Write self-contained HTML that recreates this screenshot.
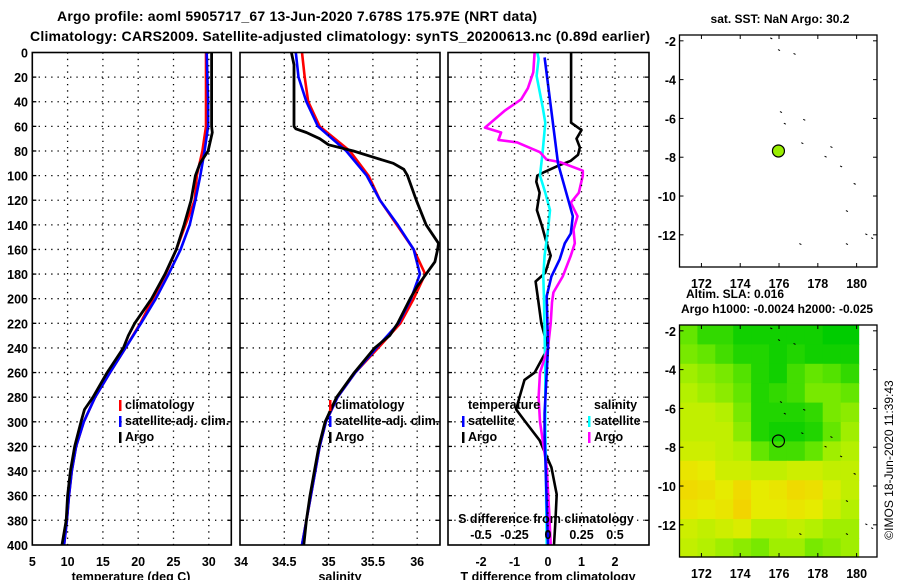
<!DOCTYPE html>
<html><head><meta charset="utf-8"><style>
html,body{margin:0;padding:0;background:#fff;}
svg{display:block;font-family:"Liberation Sans",Arial,sans-serif;font-weight:bold;}
</style></head><body>
<svg id="fig" width="900" height="580" viewBox="0 0 900 580" xmlns="http://www.w3.org/2000/svg">
<text x="297" y="21" font-size="14" text-anchor="middle" textLength="480">Argo profile: aoml 5905717_67 13-Jun-2020 7.678S 175.97E (NRT data)</text>
<text x="340" y="41" font-size="14" text-anchor="middle" textLength="620">Climatology: CARS2009. Satellite-adjusted climatology: synTS_20200613.nc (0.89d earlier)</text>
<g id="plots"></g>
</svg>
<script>
// ---- profile data ----
const depthTArgo = [0,20,40,60,65,70,80,90,100,120,140,160,180,200,220,230,240,260,280,290,300,320,340,360,380,400];
const tempArgo   = [30.4,30.4,30.4,30.4,30.5,30.3,29.9,28.75,28.1,27.5,26.5,25.4,23.8,21.9,19.5,18.6,17.9,15.6,13.6,12.4,11.9,11.0,10.4,10.0,9.8,9.2];
const depthClim  = [0,20,40,60,80,100,120,140,160,180,200,220,240,260,280,300,320,340,360,380,400];
const tempClim   = [29.6,29.6,29.6,29.6,29.1,28.3,28.0,26.7,25.4,23.9,22.1,20.3,18.2,16.0,13.9,12.3,11.2,10.6,10.2,9.9,9.5];
const tempSat    = [29.7,29.8,29.9,29.9,29.4,28.8,28.1,27.3,26.0,24.3,22.5,20.4,18.2,16.0,13.9,12.3,11.2,10.6,10.2,9.9,9.5];
const depthSArgo = [0,10,20,40,60,62,65,70,75,80,85,90,95,100,120,140,155,160,170,180,190,200,220,230,240,260,280,300,320,340,360,380,400];
const salArgo    = [34.58,34.61,34.61,34.61,34.61,34.63,34.75,34.9,35.0,35.28,35.5,35.73,35.85,35.89,35.99,36.1,36.24,36.23,36.2,36.1,36.0,35.92,35.78,35.69,35.52,35.29,35.09,34.96,34.89,34.84,34.79,34.75,34.72];
const salClim    = [34.70,34.73,34.77,34.9,35.24,35.45,35.58,35.77,35.96,36.09,35.96,35.81,35.56,35.3,35.1,34.97,34.9,34.85,34.8,34.75,34.7];
const salSat     = [34.63,34.66,34.75,34.88,35.2,35.43,35.58,35.78,35.96,36.03,35.93,35.79,35.54,35.3,35.1,34.97,34.9,34.85,34.8,34.75,34.7];
// differences (panel 3)
const depthDT    = [0,57,63,70,77,83,88,92,97,100,105,114,128,141,152,165,179,186,200,220,240,260,266,280,290,299,315,337,359,381,400];
const dTArgo     = [0.69,0.69,1.0,0.85,0.95,0.9,0.68,0.3,-0.1,-0.32,-0.35,-0.25,-0.33,-0.18,-0.07,0.08,-0.08,-0.37,-0.3,-0.2,0.0,-0.4,-0.7,-0.85,-0.95,-0.7,-0.25,0.1,0.26,0.22,0.18];
const depthDTS   = [4,90,133,147,155,168,182,198,240,293,310,400];
const dTSat      = [-0.1,0.3,0.74,0.68,0.5,0.35,0.1,-0.04,0.0,-0.1,-0.1,0.0];
const depthDS    = [0,16,29,38,47,61,65,71,73,81,87,89,96,100,114,122,133,144,155,165,182,195,203,220,240,260,280,300,337,375,400];
const dSArgo     = [-0.1,-0.11,-0.15,-0.2,-0.32,-0.47,-0.35,-0.37,-0.23,-0.06,-0.01,0.09,0.26,0.26,0.23,0.17,0.22,0.19,0.2,0.17,0.11,0.04,0.03,0.02,0.0,-0.06,-0.07,-0.06,-0.01,0.01,0.02];
const depthDSS   = [0,5,19,44,57,81,100,114,128,144,165,182,200,260,300,400];
const dSSat      = [-0.08,-0.07,-0.085,-0.04,-0.02,-0.04,-0.06,-0.02,0.015,0.0,-0.025,-0.035,-0.03,-0.02,-0.02,-0.01];
// axis ticks
const depthTicks = [0,20,40,60,80,100,120,140,160,180,200,220,240,260,280,300,320,340,360,380,400];
const tempTicks  = [5,10,15,20,25,30];
const salTicks   = ["34","34.5","35","35.5","36"];
const dTTicks    = [-2,-1,0,1,2];
const dSTicks    = ["-0.5","-0.25","0","0.25","0.5"];
// map data
const mapLonTicks = [172,174,176,178,180];
const mapLatTicks = [-2,-4,-6,-8,-10,-12];
const floatLon = 175.97, floatLat = -7.678;
const islandLon = [175.6,176.0,176.8,176.1,177.3,176.3,177.2,178.7,178.4,179.2,179.9,179.5,180.5,180.8,177.1,179.5];
const islandLat = [-1.9,-2.5,-2.7,-5.7,-6.1,-6.3,-7.3,-7.5,-8.0,-8.5,-9.4,-10.8,-12.0,-12.2,-12.5,-12.5];
const slaGrid = [
 [0.3,0.15,0.15,0.05,0.05,0.05,0.05,0.05,0.0,0.0],
 [0.35,0.3,0.2,0.1,0.1,0.05,0.1,0.05,0.05,0.05],
 [0.45,0.4,0.35,0.25,0.1,0.05,0.2,0.3,0.25,0.15],
 [0.5,0.45,0.4,0.3,0.1,0.15,0.2,0.35,0.35,0.3],
 [0.55,0.55,0.5,0.35,0.1,0.1,0.1,0.15,0.35,0.4],
 [0.55,0.55,0.55,0.4,0.1,0.05,0.05,0.1,0.3,0.45],
 [0.6,0.6,0.55,0.5,0.3,0.2,0.2,0.3,0.45,0.5],
 [0.75,0.7,0.6,0.6,0.55,0.55,0.6,0.6,0.55,0.55],
 [0.85,0.8,0.7,0.85,0.7,0.75,0.85,0.8,0.65,0.55],
 [0.75,0.7,0.75,0.9,0.7,0.7,0.75,0.7,0.6,0.5],
 [0.6,0.55,0.6,0.65,0.5,0.5,0.55,0.5,0.45,0.45],
 [0.55,0.5,0.45,0.4,0.35,0.45,0.45,0.35,0.4,0.45]
];

const NS = "http://www.w3.org/2000/svg";
const root = document.getElementById('plots');
function mk(tag, attrs, parent){ const e=document.createElementNS(NS,tag); for(const k in attrs) e.setAttribute(k,attrs[k]); (parent||root).appendChild(e); return e; }
function txt(x,y,s,size,anchor,parent){ const t=mk('text',{x:x,y:y,'font-size':size,'text-anchor':anchor||'middle'},parent); t.textContent=s; return t; }

const Y0=52.5, YS=1.231, YB=545;
const sy = d => Y0 + d*YS;
const panels = [
  {name:'temperature', x0:32.3, x1:231.3, sx:v=>32.3+(v-5)*7.06},
  {name:'salinity', x0:240, x1:440, sx:v=>240+(v-34)*88.6},
  {name:'difference', x0:448, x1:649, sx:v=>548+v*33.5}
];
const sxS = v => 548 + v*134;

function frame(p){
  const g = mk('g',{});
  
  
  return g;
}
function gridV(g,x){ mk('line',{x1:x,x2:x,y1:Y0,y2:YB,stroke:'#000','stroke-width':1.3,'stroke-dasharray':'1.3,5'},g); }
function gridH(g,p,y){ mk('line',{x1:p.x0,x2:p.x1,y1:y,y2:y,stroke:'#000','stroke-width':1.3,'stroke-dasharray':'1.3,5'},g);
  mk('line',{x1:p.x0,x2:p.x0+4,y1:y,y2:y,stroke:'#000','stroke-width':1.3},g);
  mk('line',{x1:p.x1-4,x2:p.x1,y1:y,y2:y,stroke:'#000','stroke-width':1.3},g); }
function line(g,sx,depths,vals,color,w,name){
  const pts = depths.map((d,i)=>sx(vals[i]).toFixed(1)+','+sy(d).toFixed(1)).join(' ');
  const l = mk('polyline',{points:pts,fill:'none',stroke:color,'stroke-width':w,'stroke-linejoin':'round'},g);
  
  
  return l;
}

panels.forEach((p,pi)=>{
  const g = frame(p);
  const clip = mk('clipPath',{id:'clip'+pi},g);
  mk('rect',{x:p.x0,y:Y0,width:p.x1-p.x0,height:YB-Y0},clip);
  depthTicks.slice(1,-1).forEach(d=>gridH(g,p,sy(d)));
  const lg = mk('g',{'clip-path':'url(#clip'+pi+')'},g);
  if(pi===0){
    tempTicks.forEach(t=>{ const x=p.sx(t); if(t>5) gridV(g,x); txt(x,566,String(t),12.5,'middle',g); });
    line(lg,p.sx,depthClim,tempClim,'#f00',2.6,'temperature-climatology-line');
    line(lg,p.sx,depthClim,tempSat,'#00f',2.6,'temperature-satellite-line');
    line(lg,p.sx,depthTArgo,tempArgo,'#000',2.8,'temperature-argo-line');
    txt(131,581,'temperature (deg C)',12.5,'middle',g);
    depthTicks.forEach(d=>txt(28,sy(d)+5,String(d),12.5,'end',g));
  } else if(pi===1){
    salTicks.forEach(t=>{ const v=parseFloat(t); const x=p.sx(v); if(v>34) gridV(g,x); txt(x+(v===34?1:0),566,t,12.5,'middle',g); });
    line(lg,p.sx,depthClim,salClim,'#f00',2.6,'salinity-climatology-line');
    line(lg,p.sx,depthClim,salSat,'#00f',2.6,'salinity-satellite-line');
    line(lg,p.sx,depthSArgo,salArgo,'#000',2.8,'salinity-argo-line');
    txt(340,581,'salinity',12.5,'middle',g);
  } else {
    dTTicks.forEach(t=>{ const x=p.sx(t); gridV(g,x); txt(x,566,String(t),12.5,'middle',g); });
    line(lg,p.sx,depthDT,dTArgo,'#000',2.6,'t-diff-argo-line');
    line(lg,sxS,depthDSS,dSSat,'#0ff',2.6,'s-diff-satellite-line');
    line(lg,sxS,depthDS,dSArgo,'#f0f',2.6,'s-diff-argo-line');
    line(lg,p.sx,depthDTS,dTSat,'#00f',2.6,'t-diff-satellite-line');
    const st=txt(546,523,'S difference from climatology',12.5,'middle',g);
    
    dSTicks.forEach(t=>txt(sxS(parseFloat(t)),539,t,12.5,'middle',g));
    txt(548,581,'T difference from climatology',12.5,'middle',g);
  }
  mk('rect',{x:p.x0,y:Y0,width:p.x1-p.x0,height:YB-Y0,fill:'none',stroke:'#000','stroke-width':1.6},g);
});

// legends
function legend(x,y,items,name){
  const g=mk('g',{});
  
  
  items.forEach((it,i)=>{
    if(it[1]) mk('rect',{x:x-6,y:y+i*16-9,width:2.5,height:11,fill:it[1]},g);
    txt(x,y+i*16,it[0],12.5,'start',g);
  });
}
legend(125,409,[['climatology','#f00'],['satellite-adj. clim.','#00f'],['Argo','#000']],'temperature-legend');
legend(335,409,[['climatology','#f00'],['satellite-adj. clim.','#00f'],['Argo','#000']],'salinity-legend');
legend(468,409,[['temperature',null],['satellite','#00f'],['Argo','#000']],'t-diff-legend');
legend(594,409,[['salinity',null],['satellite','#0ff'],['Argo','#f0f']],'s-diff-legend');

// ---- maps ----
const MX0=679.5, MX1=877, LON0=170.87, LAT0=-1.7, DEG=19.4;
const mx = lon => MX0 + (lon-LON0)*DEG;
function colormap(v){
  const stops=[[0,[0,204,0]],[0.3,[100,230,0]],[0.5,[180,240,0]],[0.7,[230,235,0]],[1,[248,200,0]]];
  for(let i=1;i<stops.length;i++){ if(v<=stops[i][0]){ const a=stops[i-1],b=stops[i]; const t=(v-a[0])/(b[0]-a[0]); const c=a[1].map((q,k)=>Math.round(q+(b[1][k]-q)*t)); return 'rgb('+c.join(',')+')'; } }
  return 'rgb(248,200,0)';
}
function map(top,bottom,name,heat){
  const g=mk('g',{});
  
  
  const my = lat => top + (LAT0-lat)*DEG;
  if(heat){
    const cw=(180.1-LON0)/10;
    slaGrid.forEach((row,r)=>row.forEach((v,c)=>{
      const x=mx(LON0+c*cw), y=my(LAT0-r);
      const h=Math.min(DEG, bottom-y);
      const cell=mk('rect',{x:x.toFixed(1),y:y.toFixed(1),width:(cw*DEG+0.6).toFixed(1),height:(h+0.6).toFixed(1),fill:colormap(v)},g);
      
      
    }));
  }
  islandLon.forEach((lon,i)=>{ const x=mx(lon), y=my(islandLat[i]); if(x<MX1) mk('line',{x1:x-1,y1:y-1,x2:x+1,y2:y,stroke:'#000','stroke-width':1},g); });
  mk('rect',{x:MX0,y:top,width:MX1-MX0,height:bottom-top,fill:'none',stroke:'#000','stroke-width':1.3},g);
  mapLonTicks.forEach(l=>{ const x=mx(l); mk('line',{x1:x,x2:x,y1:top,y2:top+4,stroke:'#000'},g); mk('line',{x1:x,x2:x,y1:bottom,y2:bottom-4,stroke:'#000'},g); txt(x,bottom+21,String(l),12.5,'middle',g); });
  mapLatTicks.forEach(l=>{ const y=my(l); mk('line',{x1:MX0,x2:MX0+4,y1:y,y2:y,stroke:'#000'},g); mk('line',{x1:MX1,x2:MX1-4,y1:y,y2:y,stroke:'#000'},g); txt(676,y+5,String(l),12.5,'end',g); });
  const c=mk('circle',{cx:mx(floatLon),cy:my(floatLat),r:6,fill:heat?'none':'#99ee00',stroke:'#000','stroke-width':1.2},g);
  
  
}
map(35,267,'sst-map',false);
map(325,557,'sla-map',true);
txt(780,23,'sat. SST: NaN Argo: 30.2',12,'middle');
txt(735,298,'Altim. SLA: 0.016',12,'middle');
txt(777,313,'Argo h1000: -0.0024 h2000: -0.025',12,'middle');
const cr=txt(0,0,'©IMOS 18-Jun-2020 11:39:43',12,'middle');
cr.setAttribute('transform','translate(893,460) rotate(-90)');
cr.setAttribute('font-weight','normal');

</script>
</body></html>
